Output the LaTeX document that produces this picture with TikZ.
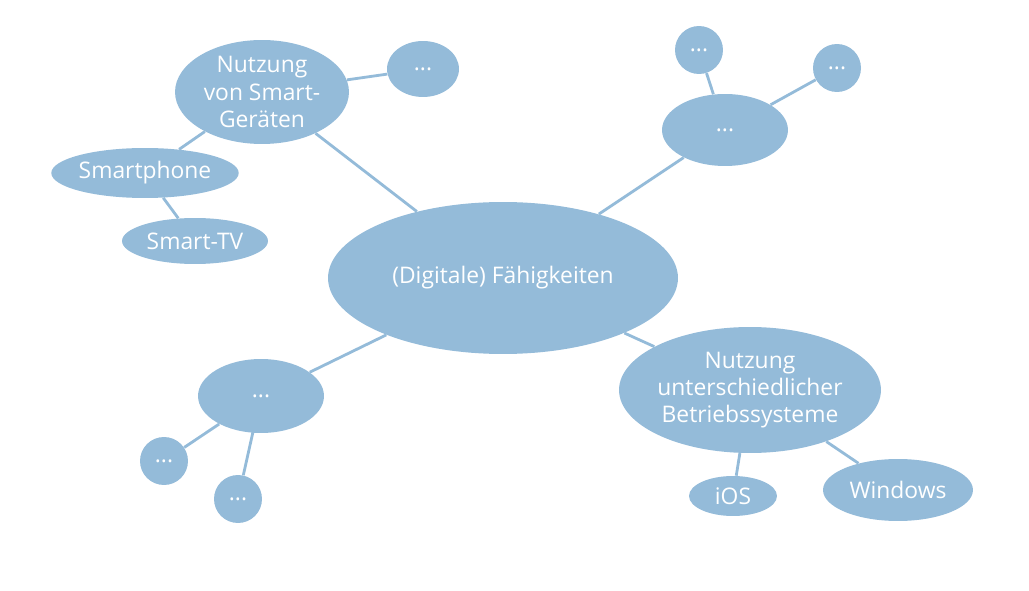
\documentclass[tikz,border=0pt]{standalone}
\usepackage{fontspec}
\setmainfont{Open Sans}
\usetikzlibrary{shapes.geometric,backgrounds}
\definecolor{bubble}{RGB}{148,187,217}

\begin{document}
\begin{tikzpicture}[x=0.02cm, y=-0.02cm,
	bub/.style={ellipse, fill=bubble, text=white, inner sep=0pt, align=center,
		font=\fontsize{13}{15.5}\selectfont},
	link/.style={draw=bubble, line width=1.6pt}]
	\useasboundingbox (0,0) rectangle (1029,591);
	\node[bub, minimum width=7cm, minimum height=3.04cm] (core) at (503,278) {(Digitale) Fähigkeiten};
	\node[bub, minimum width=3.48cm, minimum height=2.08cm] (smart) at (262,92) {Nutzung\\von Smart-\\Geräten};
	\node[bub, minimum width=1.44cm, minimum height=1.12cm] (sm1) at (423,69) {...};
	\node[bub, minimum width=3.48cm, minimum height=1cm] (phone) at (145,173) {Smartphone};
	\node[bub, minimum width=2.92cm, minimum height=0.92cm] (tv) at (195,241) {Smart-TV};
	\node[bub, minimum width=2.52cm, minimum height=1.44cm] (tr) at (725,130) {...};
	\node[bub, minimum width=0.96cm, minimum height=0.96cm] (tr1) at (699,50) {...};
	\node[bub, minimum width=0.96cm, minimum height=0.96cm] (tr2) at (837,68) {...};
	\node[bub, minimum width=2.52cm, minimum height=1.48cm] (bl) at (261,396) {...};
	\node[bub, minimum width=0.96cm, minimum height=0.96cm] (bl1) at (164,461) {...};
	\node[bub, minimum width=0.96cm, minimum height=0.96cm] (bl2) at (238,499) {...};
	\node[bub, minimum width=4.52cm, minimum height=2.52cm] (os) at (750,390) {Nutzung\\unterschiedlicher\\Betriebssysteme};
	\node[bub, minimum width=1.76cm, minimum height=0.8cm] (ios) at (733,496) {iOS};
	\node[bub, minimum width=3cm, minimum height=1.24cm] (win) at (898,490) {Windows};
	\begin{scope}[on background layer]
		\path[link] (core) -- (smart) (smart) -- (sm1) (smart) -- (phone) (phone) -- (tv);
		\path[link] (core) -- (tr) (tr) -- (tr1) (tr) -- (tr2);
		\path[link] (core) -- (bl) (bl) -- (bl1) (bl.center) -- (bl2);
		\path[link] (core) -- (os) (os) -- (ios) (os) -- (win);
	\end{scope}
\end{tikzpicture}
\end{document}
